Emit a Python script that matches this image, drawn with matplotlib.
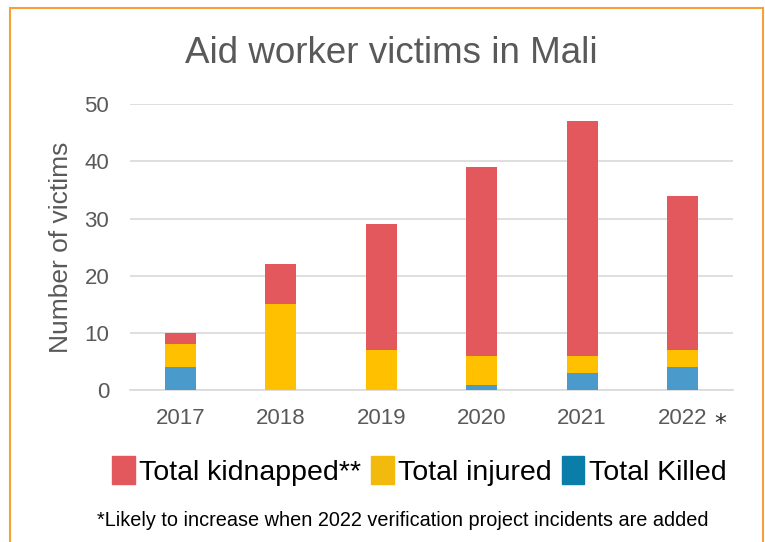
import matplotlib.pyplot as plt
from matplotlib.patches import Patch, Rectangle
import numpy as np

plt.rcParams['font.family'] = ['Liberation Sans', 'DejaVu Sans']

# Данные
years = ['2017', '2018', '2019', '2020', '2021', '2022']
killed = [4, 0, 0, 1, 3, 4]
injured = [4, 15, 7, 5, 3, 3]
kidnapped = [2, 7, 22, 33, 41, 27]

bar_red = '#E3585D'
bar_yellow = '#FFC000'
bar_blue = '#4A9BCB'
leg_red = '#E3585D'
leg_yellow = '#F2BA0C'
leg_blue = '#0A7EA8'
gray_text = '#595959'

fig = plt.figure(figsize=(7.65, 5.42), dpi=100)
ax = fig.add_axes([0.170, 0.280, 0.788, 0.528])

x = np.arange(len(years))
w = 0.31
k = np.array(killed)
i = np.array(injured)
ax.bar(x, killed, w, color=bar_blue, zorder=3)
ax.bar(x, injured, w, bottom=k, color=bar_yellow, zorder=3)
ax.bar(x, kidnapped, w, bottom=k + i, color=bar_red, zorder=3)

ax.set_xlim(-0.5, len(years) - 0.5)
ax.set_ylim(0, 50)
ax.set_yticks([0, 10, 20, 30, 40, 50])
ax.set_xticks(x)
ax.set_xticklabels(years)
ax.grid(axis='y', color='#D9D9D9', linewidth=1.2, zorder=0)
for s in ['top', 'right', 'left']:
    ax.spines[s].set_visible(False)
ax.spines['bottom'].set_color('#D9D9D9')
ax.spines['bottom'].set_linewidth(1.2)
ax.tick_params(axis='both', length=0, labelsize=16, colors=gray_text)
ax.tick_params(axis='y', pad=15)
ax.tick_params(axis='x', pad=13)

# звёздочка у 2022
ax.text(5.37, -5.9, '*', fontsize=17, color='#333333', ha='center', va='center',
        family='DejaVu Sans')

fig.text(0.511, 0.884, 'Aid worker victims in Mali', fontsize=26.5, color=gray_text,
         ha='center', va='baseline')
fig.text(0.080, 0.544, 'Number of victims', fontsize=19, color=gray_text,
         rotation=90, ha='center', va='center')

handles = [Patch(color=leg_red, label='Total kidnapped**'),
           Patch(color=leg_yellow, label='Total injured'),
           Patch(color=leg_blue, label='Total Killed')]
fig.legend(handles=handles, loc='center', bbox_to_anchor=(0.548, 0.131), ncol=3,
           frameon=False, fontsize=20.5, handlelength=0.8, handleheight=1.15,
           handletextpad=0.15, columnspacing=0.35, borderaxespad=0, borderpad=0)

fig.text(0.527, 0.040, '*Likely to increase when 2022 verification project incidents are added',
         fontsize=14.3, color='black', ha='center', va='center')

# рамка
fig.patches.append(Rectangle((10 / 765, -0.05), 753 / 765, 1 - 8 / 542 + 0.05,
                             transform=fig.transFigure, fill=False,
                             edgecolor='#F7A035', linewidth=1.5))

plt.savefig('out.png', dpi=100)
